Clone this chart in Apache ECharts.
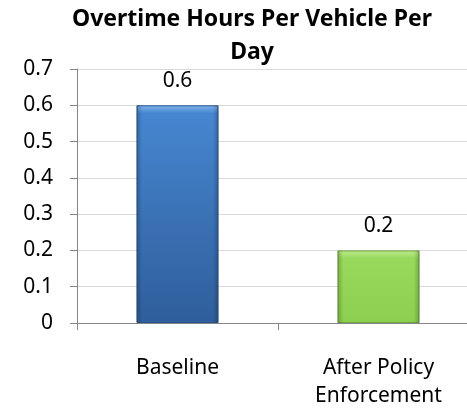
<!DOCTYPE html>
<html>
<head>
<meta charset="utf-8">
<script src="https://cdn.jsdelivr.net/npm/echarts@6/dist/echarts.min.js"></script>
<style>
html,body{margin:0;padding:0;background:#fff;}
#c{width:467px;height:410px;}
</style>
</head>
<body>
<div id="c"></div>
<script>
const titleText = 'Overtime Hours Per Vehicle Per\nDay';
const categories = ['Baseline', 'After Policy\nEnforcement'];
const values = [0.6, 0.2];
const yMin = 0, yMax = 0.7, yStep = 0.1;

const palettes = [
  {top: '#7fb2ec', main: '#4686d0', bottom: '#2f5e9b', edge: '#2a5690'},
  {top: '#bdeb8c', main: '#98d95c', bottom: '#8ccf4f', edge: '#6fa63e'}
];
const plotH = 254;
function barStyle(v, i) {
  const p = palettes[i];
  const h = (v - yMin) / (yMax - yMin) * plotH;
  const b = Math.min(0.5, 8 / h);
  return {
    color: {
      type: 'linear', x: 0, y: 0, x2: 0, y2: 1,
      colorStops: [
        {offset: 0, color: p.top},
        {offset: b, color: p.main},
        {offset: 1, color: p.bottom}
      ]
    },
    borderColor: p.edge,
    borderWidth: 1
  };
}
function edgeStyle(v, i) {
  return {
    color: {
      type: 'linear', x: 0, y: 0, x2: 1, y2: 0,
      colorStops: [
        {offset: 0, color: 'rgba(0,0,0,0.22)'},
        {offset: 0.07, color: 'rgba(0,0,0,0)'},
        {offset: 0.93, color: 'rgba(0,0,0,0)'},
        {offset: 1, color: 'rgba(0,0,0,0.22)'}
      ]
    }
  };
}

const chart = echarts.init(document.getElementById('c'), null, {renderer: 'canvas'});
chart.setOption({
  animation: false,
  backgroundColor: '#ffffff',
  title: {
    text: titleText,
    left: 252,
    textAlign: 'center',
    top: 3,
    padding: 0,
    textStyle: {
      fontFamily: 'Noto Sans',
      fontWeight: 'bold',
      fontSize: 23,
      lineHeight: 33,
      color: '#000'
    }
  },
  grid: {left: 77, width: 402, top: 69, bottom: 87, containLabel: false, outerBoundsMode: 'none'},
  xAxis: {
    type: 'category',
    data: categories,
    axisLine: {show: true, lineStyle: {color: '#868686', width: 1}},
    axisTick: {show: true, length: 7, alignWithLabel: false, lineStyle: {color: '#868686'}},
    axisLabel: {
      margin: 31,
      fontFamily: 'Noto Sans',
      fontSize: 21,
      lineHeight: 28,
      color: '#000',
      interval: 0
    },
    splitLine: {show: false}
  },
  yAxis: {
    type: 'value',
    min: yMin, max: yMax, interval: yStep,
    axisLine: {show: true, lineStyle: {color: '#868686', width: 1}},
    axisTick: {show: true, length: 7, lineStyle: {color: '#868686'}},
    axisLabel: {
      margin: 24,
      fontFamily: 'Noto Sans',
      fontSize: 21,
      color: '#000'
    },
    splitLine: {show: true, lineStyle: {color: '#d9d9d9', width: 1}}
  },
  series: [
    {
      type: 'bar',
      barWidth: 82,
      data: values.map((v, i) => ({value: v, itemStyle: barStyle(v, i)})),
      label: {
        show: true,
        position: 'top',
        distance: 14,
        fontFamily: 'Noto Sans',
        fontSize: 21,
        color: '#000'
      }
    },
    {
      type: 'bar',
      barWidth: 82,
      barGap: '-100%',
      silent: true,
      data: values.map((v, i) => ({value: v, itemStyle: edgeStyle(v, i)}))
    }
  ]
});
</script>
</body>
</html>
